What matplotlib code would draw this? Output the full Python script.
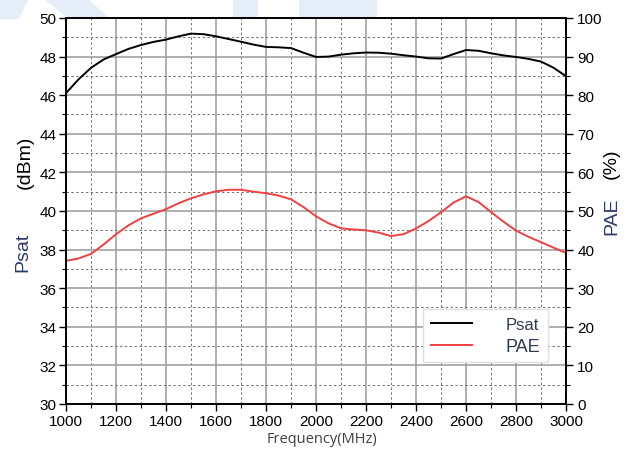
import numpy as np
import matplotlib.pyplot as plt
from matplotlib.ticker import MultipleLocator
from matplotlib.patches import Polygon

# frequency points (MHz)
freq = [1000, 1050, 1100, 1150, 1200, 1250, 1300, 1350, 1400, 1450, 1500,
        1550, 1600, 1650, 1700, 1750, 1800, 1850, 1900, 1950, 2000,
        2050, 2100, 2150, 2200, 2250, 2300, 2350, 2400, 2450, 2500,
        2550, 2600, 2650, 2700, 2750, 2800, 2850, 2900, 2950, 3000]

# saturated output power (dBm)
psat = [46.11, 46.82, 47.42, 47.85, 48.13, 48.40, 48.60, 48.76, 48.88, 49.05, 49.19,
        49.16, 49.05, 48.91, 48.77, 48.62, 48.50, 48.48, 48.44, 48.20, 47.98,
        48.00, 48.10, 48.17, 48.21, 48.20, 48.15, 48.07, 48.00, 47.91, 47.90,
        48.13, 48.34, 48.30, 48.17, 48.06, 47.98, 47.88, 47.74, 47.42, 46.98]

# power added efficiency (%)
pae = [37.1, 37.7, 38.9, 41.3, 44.0, 46.3, 48.1, 49.3, 50.5, 52.0, 53.3,
       54.3, 55.1, 55.5, 55.5, 55.0, 54.6, 54.0, 53.0, 51.0, 48.6,
       46.8, 45.5, 45.2, 45.0, 44.4, 43.5, 44.0, 45.5, 47.4, 49.7,
       52.2, 53.8, 52.3, 49.7, 47.2, 44.9, 43.3, 41.9, 40.5, 39.1]

x_ticks = np.arange(1000, 3001, 200)
navy = '#2b3a67'

fig = plt.figure(figsize=(6.29, 4.52), dpi=100)

# faint watermark shapes behind the chart
wm = '#e5eef8'
for pts in [[(0, 1.0), (0.045, 1.0), (0.03, 0.955), (0, 0.955)],
            [(0.07, 1.0), (0.14, 1.0), (0.175, 0.955), (0.11, 0.955)],
            [(0.37, 1.0), (0.41, 1.0), (0.41, 0.955), (0.37, 0.955)],
            [(0.475, 1.0), (0.60, 1.0), (0.60, 0.96), (0.475, 0.96)]]:
    fig.patches.append(Polygon(pts, closed=True, transform=fig.transFigure,
                               facecolor=wm, edgecolor='none', zorder=-5))

ax = fig.add_axes([0.105, 0.104, 0.795, 0.854])
ax.set_facecolor('white')
ax2 = ax.twinx()

l1, = ax.plot(freq, psat, color='black', lw=1.4, label='Psat')
l2, = ax2.plot(freq, pae, color='#f04040', lw=1.4, label='PAE')

ax.set_xlim(1000, 3000)
ax.set_ylim(30, 50)
ax2.set_ylim(0, 100)
ax.set_xticks(x_ticks)
ax.set_yticks(np.arange(30, 51, 2))
ax2.set_yticks(np.arange(0, 101, 10))
ax.xaxis.set_minor_locator(MultipleLocator(100))
ax.yaxis.set_minor_locator(MultipleLocator(1))
ax2.yaxis.set_minor_locator(MultipleLocator(5))

ax.grid(which='major', color='#9a9a9a', lw=1.1, ls='-')
ax.grid(which='minor', color='#707070', lw=0.7, ls=(0, (2.5, 2.5)))
ax.set_axisbelow(True)

for a in (ax, ax2):
    for s in a.spines.values():
        s.set_linewidth(1.2)
        s.set_color('black')
ax.tick_params(axis='both', which='major', labelsize=11, length=5, width=1, direction='out', pad=2)
ax.tick_params(axis='both', which='minor', length=3, width=0.8, direction='out')
ax2.tick_params(axis='y', which='major', labelsize=11, length=5, width=1, pad=3)
ax2.tick_params(axis='y', which='minor', length=3, width=0.8)
ax2.tick_params(axis='x', which='both', top=True, direction='in', length=5)

# axis titles (two colours each)
fig.text(0.036, 0.442, 'Psat', rotation=90, color=navy, fontsize=14,
         ha='center', va='center', family='Liberation Sans')
fig.text(0.040, 0.64, '(dBm)', rotation=90, color='black', fontsize=14,
         ha='center', va='center', family='Liberation Sans')
fig.text(0.972, 0.522, 'PAE', rotation=90, color=navy, fontsize=14,
         ha='center', va='center', family='Liberation Sans')
fig.text(0.972, 0.637, '(%)', rotation=90, color='black', fontsize=14,
         ha='center', va='center', family='Liberation Sans')
fig.text(0.512, 0.027, 'Frequency(MHz)', color='#404040', fontsize=10.5,
         ha='center', va='center', family='Open Sans')

for lab in ax.get_xticklabels() + ax.get_yticklabels() + ax2.get_yticklabels():
    lab.set_family('Liberation Sans')

leg = ax2.legend([l1, l2], ['Psat', 'PAE'], loc='upper left',
                 bbox_to_anchor=(0.714, 0.245), fontsize=12, frameon=True,
                 fancybox=False, edgecolor='#e0e0e0', framealpha=1,
                 handlelength=2.5, handletextpad=2.0, labelspacing=0.35,
                 borderpad=0.45, borderaxespad=0)
for t in leg.get_texts():
    t.set_color('#2f3a55')
    t.set_family('Liberation Sans')
leg.get_texts()[1].set_fontsize(13)

fig.savefig('out.png', dpi=100)
